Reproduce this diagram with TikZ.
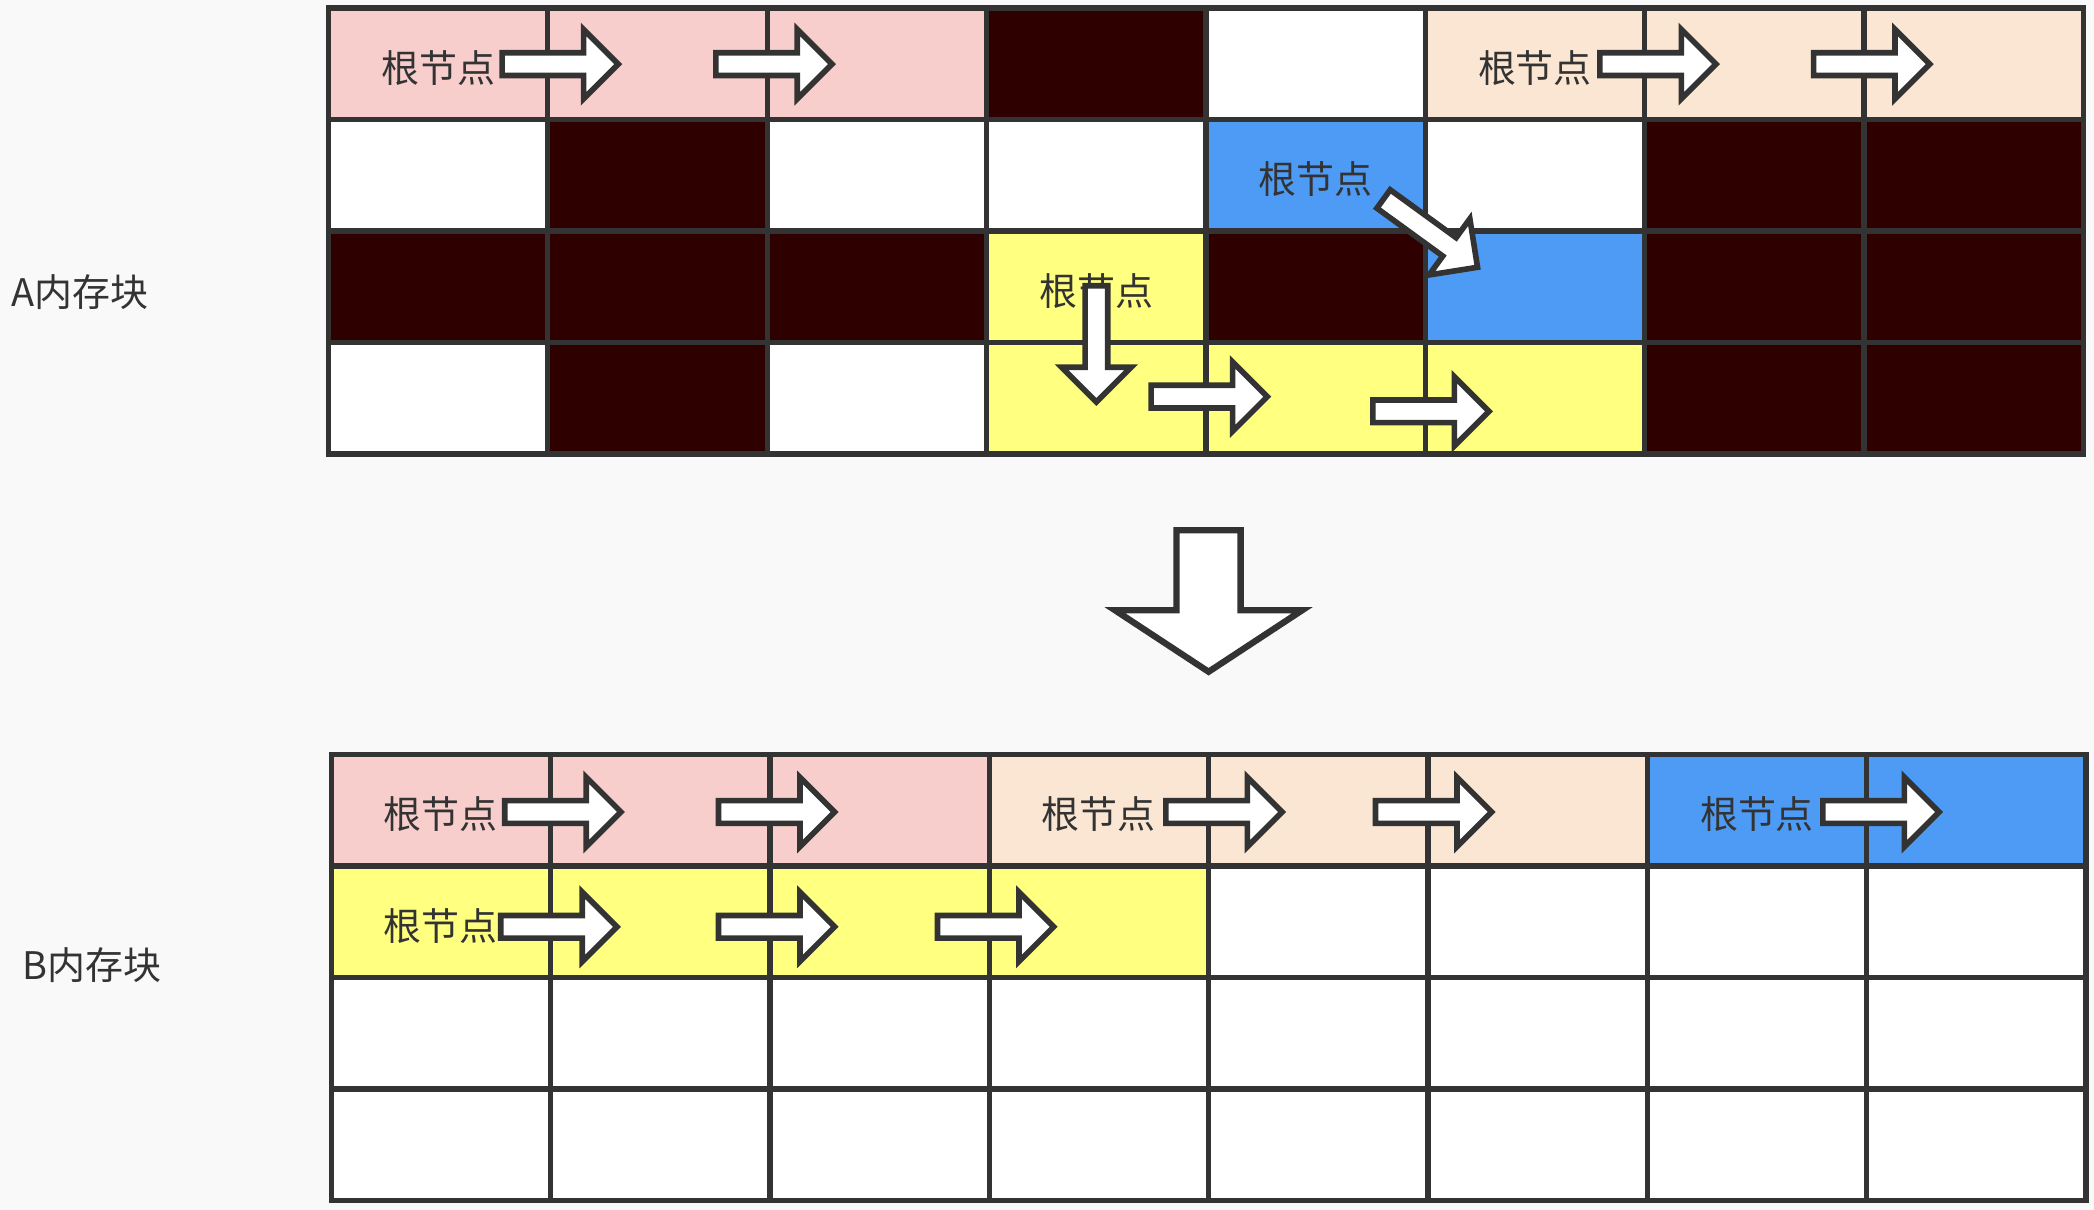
\documentclass[tikz,border=0pt]{standalone}
\usepackage{fontspec}
\setmainfont{Noto Sans CJK SC}
\definecolor{bg}{HTML}{F9F9F9}
\definecolor{pk}{HTML}{F8CECC}
\definecolor{pc}{HTML}{FAE6D2}
\definecolor{dk}{HTML}{2E0000}
\definecolor{bl}{HTML}{4E9BF5}
\definecolor{yl}{HTML}{FFFF80}
\definecolor{wt}{HTML}{FFFFFF}
\definecolor{ln}{HTML}{333333}
\tikzset{fat/.pic={\draw[arr] (0,-8.5) -- (61,-8.5) -- (61,-26) -- (87,0) -- (61,26) -- (61,8.5) -- (0,8.5) -- cycle;}}
\begin{document}
\begin{tikzpicture}[x=0.013355cm, y=-0.013355cm, font=\fontsize{10.8}{13}\selectfont,
cell/.style={rectangle,draw=ln,line width=1.5pt,minimum width=2.1936cm,minimum height=1.1151cm,inner sep=0pt,outer sep=0pt},
lbl/.style={text=ln,inner sep=0pt,yshift=-0.04cm},
arr/.style={draw=ln,fill=white,line width=1.6pt,line join=miter}]
\fill[bg] (0,0) rectangle (1568,906);
% A内存块
\foreach \row [count=\r] in {{pk,pk,pk,dk,wt,pc,pc,pc},{wt,dk,wt,wt,bl,wt,dk,dk},{dk,dk,dk,yl,dk,bl,dk,dk},{wt,dk,wt,yl,yl,yl,dk,dk}}
  \foreach \c [count=\i] in \row
    \node[cell,fill=\c] (a\r\i) at ({246+164.25*(\i-0.5)},{6+83.5*(\r-0.5)}) {};
% B内存块
\foreach \row [count=\r] in {{pk,pk,pk,pc,pc,pc,bl,bl},{yl,yl,yl,yl,wt,wt,wt,wt},{wt,wt,wt,wt,wt,wt,wt,wt},{wt,wt,wt,wt,wt,wt,wt,wt}}
  \foreach \c [count=\i] in \row
    \node[cell,fill=\c] (b\r\i) at ({248+164.25*(\i-0.5)},{565+83.5*(\r-0.5)}) {};
\node[lbl] (la) at (60,216) {A内存块};
\node[lbl] (lb) at (69,720) {B内存块};
\node[lbl] (ra1) at (a11) {根节点};
\node[lbl] (ra2) at (a16) {根节点};
\node[lbl] (ra3) at (a25) {根节点};
\node[lbl] (ra4) at (a34) {根节点};
\node[lbl] (rb1) at (b11) {根节点};
\node[lbl] (rb2) at (b14) {根节点};
\node[lbl] (rb3) at (b17) {根节点};
\node[lbl] (rb4) at (b21) {根节点};
% arrows in A
\pic at (376,48) {fat};
\pic at (536,48) {fat};
\pic at (1198,48) {fat};
\pic at (1358,48) {fat};
\pic[rotate=-36] at (1036,149) {fat};
\pic[rotate=-90] at (821,214) {fat};
\pic at (862,297) {fat};
\pic at (1028,308) {fat};
% arrows in B
\pic at (378,608) {fat};
\pic at (538,608) {fat};
\pic at (873,608) {fat};
\pic at (1030,608) {fat};
\pic at (1365,608) {fat};
\pic at (375,694) {fat};
\pic at (538,694) {fat};
\pic at (702,694) {fat};
% A -> B
\draw[arr,line width=1.8pt] (881,397) -- (929,397) -- (929,457) -- (975,457) -- (905,503) -- (835,457) -- (881,457) -- cycle;
\end{tikzpicture}
\end{document}
